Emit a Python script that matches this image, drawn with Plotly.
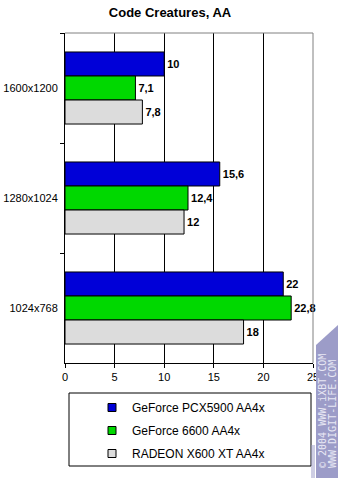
import plotly.graph_objects as go

categories = ["1600x1200", "1280x1024", "1024x768"]
series_names = ["GeForce PCX5900 AA4x", "GeForce 6600 AA4x", "RADEON X600 XT AA4x"]
pcx5900 = [10, 15.6, 22]
gf6600 = [7.1, 12.4, 22.8]
x600xt = [7.8, 12, 18]
x_ticks = [0, 5, 10, 15, 20, 25]
colors = ["#0000D8", "#00D800", "#DCDCDC"]
watermark = ["© 2004 WWW.iXBT.COM", "WWW.DIGIT-LIFE.COM"]

def fmt(v):
    s = ("%g" % v)
    return s.replace(".", ",")

fig = go.Figure()
for name, vals, col in zip(series_names, [pcx5900, gf6600, x600xt], colors):
    fig.add_trace(go.Bar(
        y=categories, x=vals, orientation="h", name=name,
        marker=dict(color=col, line=dict(color="black", width=1)),
        text=[fmt(v) for v in vals], textposition="outside",
        textfont=dict(family="Liberation Sans", size=11, color="black", weight="bold"),
        cliponaxis=False, showlegend=False,
    ))
# legend entries (small square swatches)
for name, col in zip(series_names, colors):
    fig.add_trace(go.Scatter(
        x=[None], y=[None], mode="markers", name=name, legendgroup=name,
        marker=dict(symbol="square", size=8, color=col, line=dict(color="black", width=1)),
    ))

def px(x):
    return (x - 65) / 248

def py(y):
    return (363 - y) / 330

fig.update_layout(
    width=338, height=478,
    margin=dict(l=65, r=25, t=33, b=115, autoexpand=False),
    paper_bgcolor="white", plot_bgcolor="white",
    barmode="group", bargap=0.345, bargroupgap=0,
    font=dict(family="Liberation Sans", size=11, color="black"),
    title=dict(text="<b>Code Creatures, AA</b>", x=170 / 338, xref="container", xanchor="center",
               y=1 - 12 / 478, yanchor="middle",
               font=dict(family="Liberation Sans", size=13, color="black")),
    showlegend=True,
    legend=dict(x=px(92), xanchor="left", y=py(393), yanchor="top",
                bgcolor="rgba(0,0,0,0)", borderwidth=0, traceorder="grouped",
                tracegroupgap=4, itemwidth=30, font=dict(family="Liberation Sans", size=12)),
    xaxis=dict(range=[0, 25], tickvals=x_ticks, showgrid=True, gridcolor="black", gridwidth=1,
               showline=True, linecolor="black", linewidth=1, ticks="outside", ticklen=4,
               tickcolor="black", zeroline=False, automargin=False),
    yaxis=dict(autorange="reversed", showline=True, linecolor="black", linewidth=1,
               ticks="outside", ticklen=4, tickcolor="black", tickson="boundaries",
               showgrid=False, ticklabelstandoff=4, automargin=False),
)

# gray top and right frame
fig.add_shape(type="line", xref="paper", yref="paper", x0=0, x1=1, y0=1, y1=1,
              line=dict(color="#808080", width=1))
fig.add_shape(type="line", xref="paper", yref="paper", x0=1, x1=1, y0=0, y1=1,
              line=dict(color="#808080", width=1))

# legend box
fig.add_shape(type="rect", xref="paper", yref="paper", x0=px(69), x1=px(311), y0=py(393), y1=py(466),
              line=dict(color="black", width=1), fillcolor="rgba(0,0,0,0)")

# watermark strip
fig.add_shape(type="path", xref="paper", yref="paper",
              path="M %f %f L %f %f L %f %f L %f %f Z" % (px(316), py(345), px(338), py(325),
                                                          px(338), py(478), px(316), py(478)),
              line=dict(width=0), fillcolor="#9C9CC8", layer="above")
for xx in [312, 314]:
    fig.add_shape(type="line", xref="paper", yref="paper", x0=px(xx), x1=px(xx), y0=py(445), y1=py(478),
                  line=dict(color="#9C9CC8", width=1))
for xx, line_text in zip([322, 332], watermark):
    fig.add_annotation(xref="paper", yref="paper", x=px(xx), y=py(470), text=line_text,
                       textangle=-90, showarrow=False, xanchor="center", yanchor="bottom",
                       font=dict(family="DejaVu Sans Mono", size=10, color="#E8E8F4"))

fig.write_html("out.html")
